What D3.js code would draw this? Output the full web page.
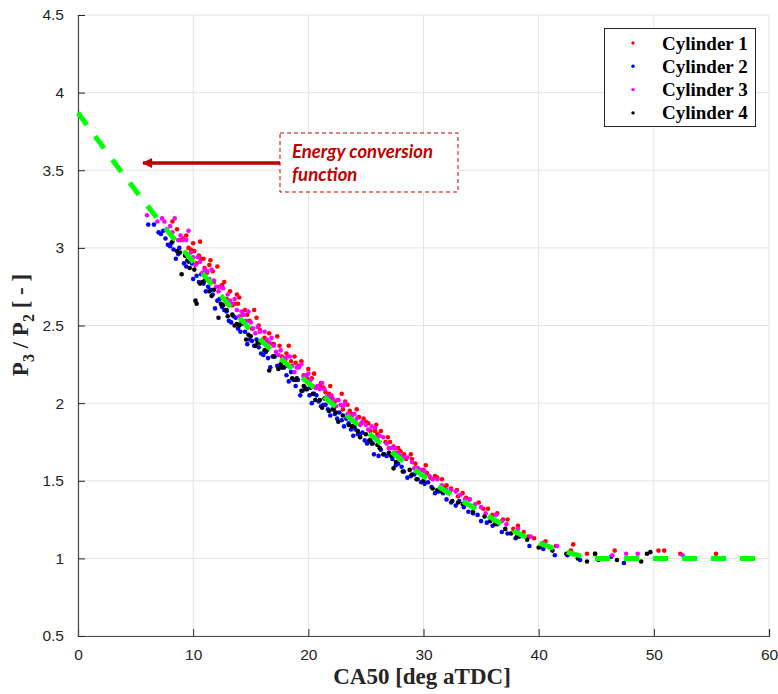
<!DOCTYPE html>
<html>
<head>
<meta charset="utf-8">
<script src="https://cdn.jsdelivr.net/npm/d3@7"></script>
<style>
   body { margin: 0; background: #fff; }
   svg { display: block; }
</style>
</head>
<body>
<svg id="chart" width="778" height="694"></svg>
<script>
// Tick values
var xTicks = [0, 10, 20, 30, 40, 50, 60];
var yTicks = [0.5, 1, 1.5, 2, 2.5, 3, 3.5, 4, 4.5];

// Legend
var seriesNames = ["Cylinder 1", "Cylinder 2", "Cylinder 3", "Cylinder 4"];
var seriesColors = ["#ff0000", "#0000ff", "#ff00ff", "#000000"];

// Energy conversion function (fitted curve)
var curveX = [0, 5, 7, 9, 12, 15, 18, 20, 22, 25, 28, 30, 32, 35, 38, 40, 42, 44, 45, 50, 55, 60];
var curveY = [3.87, 3.37, 3.18, 3.00, 2.73, 2.47, 2.26, 2.13, 2.00, 1.82, 1.64, 1.53, 1.43, 1.30, 1.17, 1.10, 1.05, 1.01, 1.00, 1.00, 1.00, 1.00];

// CA50 [deg aTDC], P3/P2 per cylinder
var cyl1 = [[8.2,3.17],[8.9,3.05],[9.4,3.08],[9.8,2.99],[10.0,3.03],[10.3,2.90],[10.6,3.04],[10.7,2.93],[11.0,2.87],[11.4,2.89],
   [11.5,2.92],[11.8,2.78],[12.1,2.88],[12.5,2.76],[12.9,2.67],[13.2,2.72],[13.6,2.64],[14.0,2.68],[14.3,2.57],[14.7,2.57],
   [15.1,2.48],[15.5,2.55],[15.8,2.47],[16.2,2.42],[16.6,2.45],[17.0,2.38],[17.3,2.43],[17.7,2.30],[18.1,2.32],[18.5,2.27],
   [18.8,2.30],[19.2,2.24],[19.6,2.18],[20.0,2.22],[20.3,2.16],[20.7,2.10],[21.1,2.13],[21.5,2.07],[21.9,2.11],[22.3,2.01],
   [22.6,2.02],[23.0,1.96],[23.4,1.99],[23.8,1.93],[24.2,1.96],[24.6,1.87],[25.0,1.88],[25.4,1.82],[25.8,1.82],[26.3,1.82],
   [26.7,1.75],[27.1,1.75],[27.6,1.68],[28.0,1.69],[28.5,1.64],[29.0,1.64],[29.5,1.58],[30.0,1.57],[30.6,1.52],[31.2,1.52],
   [31.8,1.46],[32.4,1.45],[33.0,1.40],[33.7,1.39],[34.4,1.34],[35.2,1.32],[36.0,1.28],[36.9,1.25],[37.8,1.19],[38.7,1.17],
   [39.6,1.13],[40.6,1.11],[41.5,1.08],[42.8,1.05],[44.2,1.03],[46.6,1.05],[50.4,1.05],[50.9,1.05],[52.3,1.03],[55.4,1.03],
   [9.1,3.06],[10.9,2.93],[12.3,2.75],[13.9,2.64],[15.3,2.60],[16.9,2.38],[18.3,2.37],[19.9,2.16],[21.3,2.10],[22.9,2.06],
   [24.4,1.91],[25.9,1.86],[27.4,1.72],[28.9,1.67],[30.3,1.55],[31.6,1.51],[33.4,1.42],[35.6,1.32],[37.3,1.25],[39.1,1.14],
   [43.0,1.09],[44.9,1.03],
   [8.6,3.12],[9.6,3.00],[10.1,2.98],[10.5,2.95],[11.2,2.84],[11.7,2.85],[12.7,2.78],[13.4,2.63],[13.8,2.70],[14.5,2.60],
   [14.9,2.53],[15.7,2.50],[16.4,2.40],[17.5,2.37],[18.0,2.28],[18.9,2.26],[19.4,2.27],[20.5,2.19],[21.0,2.11],[21.8,2.06],
   [22.1,2.03],[23.2,2.01],[23.6,1.95],[24.8,1.90],[25.2,1.87],[26.0,1.80],[26.9,1.78],[27.8,1.71],[28.3,1.67],[29.3,1.61],
   [30.2,1.60],[31.0,1.53],[32.0,1.47],[32.9,1.44],[34.0,1.38],[34.8,1.36],[36.4,1.29],[38.2,1.21]];
var cyl2 = [[6.1,3.15],[6.6,3.15],[7.0,3.10],[7.4,3.11],[7.8,3.02],[8.1,3.03],[8.5,2.93],[8.8,3.00],[9.2,2.90],[9.6,2.91],
   [10.0,2.80],[10.3,2.82],[10.7,2.83],[11.1,2.72],[11.5,2.73],[11.9,2.61],[12.3,2.67],[12.7,2.60],[13.1,2.53],[13.5,2.56],
   [13.9,2.48],[14.3,2.51],[14.7,2.38],[15.1,2.40],[15.5,2.41],[15.9,2.32],[16.3,2.33],[16.7,2.23],[17.1,2.30],[17.5,2.23],
   [17.9,2.23],[18.3,2.14],[18.7,2.15],[19.1,2.15],[19.5,2.08],[19.9,2.09],[20.3,2.00],[20.7,2.05],[21.1,1.98],[21.5,1.99],
   [21.9,1.92],[22.3,1.93],[22.7,1.94],[23.1,1.85],[23.5,1.87],[23.9,1.79],[24.3,1.80],[24.7,1.81],[25.1,1.74],[25.6,1.74],
   [26.1,1.66],[26.6,1.67],[27.1,1.67],[27.6,1.60],[28.1,1.59],[28.6,1.52],[29.2,1.54],[29.8,1.49],[30.4,1.49],[31.0,1.42],
   [31.7,1.42],[32.4,1.36],[33.1,1.37],[33.9,1.30],[34.7,1.28],[35.5,1.23],[36.4,1.22],[37.3,1.16],[38.3,1.14],[39.2,1.08],
   [40.3,1.07],[41.4,1.02],[42.5,1.02],[43.6,0.99],[45.2,0.99],[46.3,1.01],[47.4,0.97],
   [8.3,2.99],[9.9,2.90],[11.3,2.75],[12.9,2.59],[14.5,2.46],[16.1,2.31],[17.7,2.23],[19.3,2.05],[20.9,2.01],[22.5,1.90],
   [24.1,1.83],[25.7,1.67],[27.3,1.64],[28.9,1.53],[30.7,1.46],[32.8,1.34],[35.0,1.24],[36.8,1.17],[38.0,1.13],[40.4,1.06],
   [7.2,3.09],[7.6,3.06],[8.0,3.01],[8.7,2.96],[9.4,2.88],[10.5,2.78],[10.9,2.77],[11.7,2.70],[12.1,2.66],[12.5,2.62],
   [13.3,2.52],[13.7,2.55],[14.1,2.46],[14.9,2.41],[15.3,2.37],[15.7,2.36],[16.5,2.29],[16.9,2.30],[17.3,2.24],[18.1,2.18],
   [18.5,2.20],[18.9,2.11],[19.7,2.10],[20.1,2.05],[20.5,2.06],[21.3,1.99],[21.7,1.96],[22.1,1.96],[22.9,1.89],[23.3,1.90],
   [23.7,1.83],[24.5,1.80],[24.9,1.76],[25.4,1.76],[26.3,1.70],[26.8,1.66],[27.8,1.61],[28.3,1.56],[29.5,1.51],[30.1,1.48],
   [31.3,1.43],[32.0,1.38],[33.5,1.33],[34.3,1.29],[36.0,1.21]];
var cyl3 = [[6.0,3.21],[6.9,3.17],[7.3,3.19],[7.7,3.12],[8.0,3.14],[8.4,3.19],[8.7,3.05],[9.1,3.05],[9.6,3.11],[10.0,2.94],
   [10.4,2.94],[10.8,2.84],[11.2,2.85],[11.6,2.86],[12.0,2.75],[12.4,2.75],[12.8,2.65],[13.2,2.66],[13.6,2.67],[14.0,2.56],
   [14.4,2.57],[14.8,2.59],[15.2,2.48],[15.6,2.49],[16.0,2.40],[16.4,2.41],[16.8,2.42],[17.2,2.33],[17.6,2.34],[18.0,2.29],
   [18.4,2.30],[18.8,2.20],[19.2,2.23],[19.6,2.17],[20.0,2.19],[20.4,2.11],[20.8,2.11],[21.2,2.13],[21.6,2.04],[22.0,2.05],
   [22.4,1.98],[22.8,1.99],[23.2,2.00],[23.6,1.92],[24.0,1.93],[24.5,1.86],[25.0,1.86],[25.5,1.85],[26.0,1.78],[26.5,1.78],
   [27.0,1.71],[27.5,1.71],[28.0,1.66],[28.6,1.65],[29.2,1.58],[29.8,1.57],[30.5,1.53],[31.2,1.51],[32.0,1.44],[32.8,1.43],
   [33.6,1.38],[34.5,1.35],[35.4,1.29],[36.3,1.28],[37.2,1.22],[38.2,1.19],[39.3,1.14],[40.4,1.10],[41.6,1.08],[43.0,1.03],
   [46.4,1.02],[47.6,1.03],[48.6,1.03],[52.5,1.02],
   [9.4,3.05],[11.4,2.80],[13.0,2.70],[14.6,2.53],[16.2,2.46],[17.8,2.29],[19.4,2.25],[21.0,2.09],[22.6,2.02],[24.2,1.90],
   [25.8,1.84],[27.3,1.71],[29.0,1.62],[31.6,1.47],[34.0,1.38],
   [7.5,3.17],[8.2,3.10],[8.9,3.08],[9.8,2.97],[10.2,2.89],[10.6,2.91],[11.0,2.86],[11.8,2.79],[12.2,2.72],[12.6,2.74],
   [13.4,2.64],[13.8,2.60],[14.2,2.59],[15.0,2.52],[15.4,2.45],[15.8,2.46],[16.6,2.39],[17.0,2.37],[17.4,2.31],[18.2,2.30],
   [18.6,2.24],[19.0,2.23],[19.8,2.18],[20.2,2.15],[20.6,2.10],[21.4,2.09],[21.8,2.04],[22.2,2.02],[23.0,1.98],[23.4,1.93],
   [23.8,1.92],[24.7,1.88],[25.2,1.83],[26.2,1.79],[26.8,1.74],[27.8,1.68],[28.3,1.65],[29.5,1.58],[30.1,1.56],[30.8,1.51],
   [32.4,1.44],[33.2,1.41],[35.0,1.33],[36.8,1.24]];
var cyl4 = [[8.2,3.04],[8.6,2.98],[8.85,2.97],[9.0,2.83],[9.3,2.95],[9.7,2.87],[10.1,2.86],[10.2,2.66],[10.3,2.64],[10.6,2.77],
   [11.0,2.79],[11.4,2.72],[11.8,2.73],[12.2,2.55],[12.6,2.63],[13.0,2.56],[13.4,2.57],[13.8,2.51],[14.2,2.52],[14.6,2.41],
   [15.0,2.43],[15.4,2.37],[15.8,2.39],[16.2,2.34],[16.6,2.21],[17.0,2.30],[17.4,2.22],[17.8,2.23],[18.2,2.24],[18.6,2.16],
   [19.0,2.16],[19.4,2.08],[19.8,2.09],[20.2,2.10],[20.6,2.02],[21.0,2.02],[21.4,2.03],[21.8,1.95],[22.2,1.96],[22.6,1.88],
   [23.0,1.92],[23.5,1.86],[24.0,1.85],[24.5,1.78],[25.0,1.80],[25.5,1.74],[26.0,1.73],[26.5,1.67],[27.0,1.68],[27.6,1.62],
   [28.2,1.56],[28.8,1.57],[29.4,1.51],[30.0,1.50],[30.8,1.45],[31.6,1.43],[32.5,1.37],[33.4,1.35],[34.3,1.30],[35.3,1.27],
   [36.2,1.22],[37.1,1.19],[38.1,1.14],[39.0,1.12],[40.0,1.07],[41.2,1.05],[42.4,1.03],[44.2,0.98],[44.9,1.03],[46.8,0.99],
   [48.9,0.98],[49.4,1.03],[49.7,1.04],
   [27.4,1.58],[13.6,2.50],[9.5,2.92],[11.6,2.69],[14.0,2.50],[16.4,2.34],[18.9,2.15],[21.2,1.97],[23.8,1.85],[26.2,1.71],
   [10.8,2.78],[12.4,2.64],[12.9,2.60],[14.8,2.44],[15.6,2.39],[17.6,2.25],[19.6,2.11],[20.4,2.06],[22.4,1.94],[24.3,1.82],
   [25.3,1.76],[27.2,1.66],[29.0,1.54],[31.2,1.44],[33.0,1.36],[35.8,1.24],[37.6,1.16],[43.4,1.00]];

var allSeries = [cyl1, cyl2, cyl3, cyl4];

window.onload = function(){
   drawChart();
};

function drawChart() {
   var svg = d3.select("#chart");
   var margin = {left: 78, right: 9, top: 15, bottom: 58};
   var width = +svg.attr("width"),
       height = +svg.attr("height");

   var x = d3.scaleLinear().domain([0, 60]).range([margin.left, width - margin.right]);
   var y = d3.scaleLinear().domain([0.5, 4.5]).range([height - margin.bottom, margin.top]);

   svg.append("rect").attr("width", width).attr("height", height).attr("fill", "#fff");

   // Grid
   svg.append("g").selectAll("line")
      .data(xTicks).enter().append("line")
         .attr("x1", d => x(d)).attr("x2", d => x(d))
         .attr("y1", y(0.5)).attr("y2", y(4.5))
         .style("stroke", "#e3e3e3").style("stroke-width", 1);
   svg.append("g").selectAll("line")
      .data(yTicks).enter().append("line")
         .attr("x1", x(0)).attr("x2", x(60))
         .attr("y1", d => y(d)).attr("y2", d => y(d))
         .style("stroke", "#e3e3e3").style("stroke-width", 1);

   // Axes (ticks pointing inward, MATLAB style)
   var xAxis = svg.append("g")
      .attr("transform", "translate(0," + y(0.5) + ")")
      .call(d3.axisBottom(x).tickValues(xTicks).tickSize(-7).tickPadding(13).tickFormat(d3.format("")));
   var yAxis = svg.append("g")
      .attr("transform", "translate(" + x(0) + ",0)")
      .call(d3.axisLeft(y).tickValues(yTicks).tickSize(-7).tickPadding(14).tickFormat(d3.format("")));
   [xAxis, yAxis].forEach(function(g){
      g.select(".domain").style("stroke", "#4d4d4d").style("stroke-width", 1.2);
      g.selectAll(".tick line").style("stroke", "#262626");
      g.selectAll(".tick text")
         .style("font-family", "'Liberation Sans', Arial, sans-serif")
         .style("font-size", "15.5px")
         .style("fill", "#262626");
   });

   // Scatter points
   allSeries.forEach(function(pts, i){
      svg.append("g").selectAll("circle")
         .data(pts).enter().append("circle")
            .attr("cx", d => x(d[0]))
            .attr("cy", d => y(d[1]))
            .attr("r", 2.3)
            .style("fill", seriesColors[i]);
   });

   // Fitted curve
   var line = d3.line().x(d => x(d[0])).y(d => y(d[1])).curve(d3.curveMonotoneX);
   svg.append("path")
      .attr("d", line(d3.zip(curveX, curveY)))
      .style("fill", "none")
      .style("stroke", "#00ff00")
      .style("stroke-width", 5)
      .style("stroke-dasharray", "15,14");

   // Annotation
   var red = "#c00000";
   svg.append("defs").append("marker")
      .attr("id", "arrowhead")
      .attr("viewBox", "0 0 10 10")
      .attr("refX", 9).attr("refY", 5)
      .attr("markerUnits", "userSpaceOnUse")
      .attr("markerWidth", 11).attr("markerHeight", 10)
      .attr("orient", "auto")
      .append("path").attr("d", "M0,0 L10,5 L0,10 Z").attr("fill", red);
   svg.append("line")
      .attr("x1", 280).attr("y1", 163).attr("x2", 143).attr("y2", 163)
      .style("stroke", red).style("stroke-width", 3.3)
      .attr("marker-end", "url(#arrowhead)");
   svg.append("rect")
      .attr("x", 280).attr("y", 133).attr("width", 178).attr("height", 59)
      .style("fill", "#fff").style("stroke", red).style("stroke-width", 1)
      .style("stroke-dasharray", "4,3");
   var ann = svg.append("text")
      .style("font-family", "Lato, 'Open Sans', sans-serif")
      .style("font-style", "italic").style("font-weight", "bold")
      .style("font-size", "18.5px").style("fill", red);
   ann.append("tspan").attr("x", 292).attr("y", 158).text("Energy conversion");
   ann.append("tspan").attr("x", 292).attr("y", 181).text("function");

   // Legend
   var lg = svg.append("g");
   lg.append("rect").attr("x", 604.5).attr("y", 28.5).attr("width", 151).attr("height", 98)
      .style("fill", "#fff").style("stroke", "#262626").style("stroke-width", 1);
   seriesNames.forEach(function(name, i){
      var ry = 43 + i * 23.3;
      lg.append("circle").attr("cx", 633).attr("cy", ry).attr("r", 1.7).style("fill", seriesColors[i]);
      lg.append("text").attr("x", 662).attr("y", ry + 6.5)
         .style("font-family", "'Liberation Serif', 'Times New Roman', serif")
         .style("font-weight", "bold").style("font-size", "19px").style("fill", "#000")
         .text(name);
   });

   // Axis labels
   svg.append("text")
      .attr("x", 422).attr("y", 684)
      .attr("text-anchor", "middle")
      .style("font-family", "'Liberation Serif', 'Times New Roman', serif")
      .style("font-weight", "bold").style("font-size", "23px").style("fill", "#262626")
      .text("CA50 [deg aTDC]");

   var yl = svg.append("text")
      .attr("transform", "translate(28,325) rotate(-90)")
      .attr("text-anchor", "middle")
      .style("font-family", "'Liberation Serif', 'Times New Roman', serif")
      .style("font-weight", "bold").style("font-size", "23px").style("fill", "#262626");
   yl.append("tspan").text("P");
   yl.append("tspan").attr("dy", 6).style("font-size", "16px").text("3");
   yl.append("tspan").attr("dy", -6).text(" / P");
   yl.append("tspan").attr("dy", 6).style("font-size", "16px").text("2");
   yl.append("tspan").attr("dy", -6).text(" [ - ]");
}
</script>
</body>
</html>
